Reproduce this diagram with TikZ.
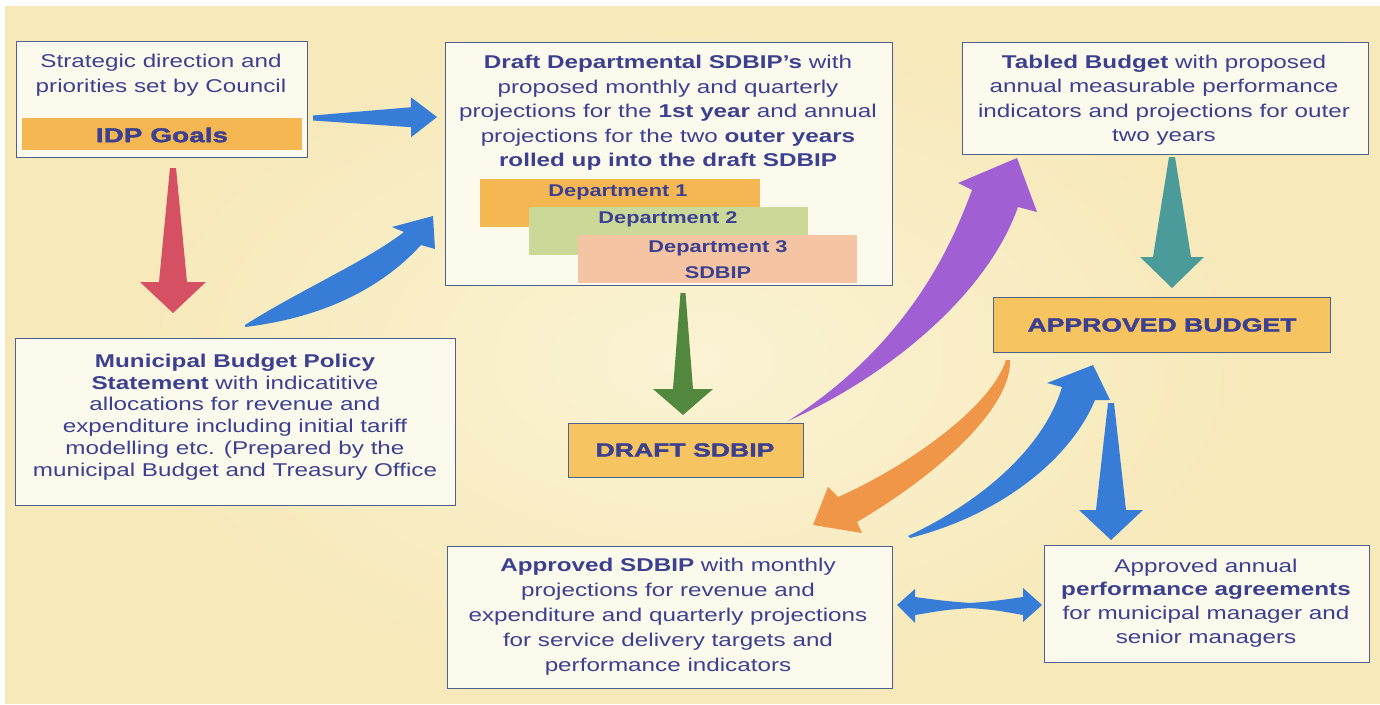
\documentclass[tikz,border=0pt]{standalone}
\usepackage{fontspec}
\setmainfont[FakeStretch=1.31]{Liberation Sans}
\newfontfamily\blackfont[FakeStretch=1.4,BoldFeatures={FakeBold=2}]{Liberation Sans}
\newfontfamily\deptfont[FakeStretch=1.28]{Liberation Sans}
\usetikzlibrary{calc}
\definecolor{bgc}{RGB}{247,233,186}
\definecolor{bglight}{RGB}{251,243,212}
\definecolor{boxfill}{RGB}{251,250,236}
\definecolor{boxline}{RGB}{78,96,140}
\definecolor{txtc}{RGB}{60,64,144}
\definecolor{orfill}{RGB}{244,183,82}
\definecolor{abfill}{RGB}{246,196,96}
\definecolor{dtwo}{RGB}{203,216,152}
\definecolor{dthree}{RGB}{245,196,163}
\definecolor{ablue}{RGB}{55,125,215}
\definecolor{ared}{RGB}{214,80,100}
\definecolor{agreen}{RGB}{82,135,62}
\definecolor{apurple}{RGB}{160,95,210}
\definecolor{ateal}{RGB}{75,155,155}
\definecolor{aorange}{RGB}{240,150,72}
\tikzset{
  box/.style={draw=boxline, line width=1.3pt, fill=boxfill, anchor=north west, inner sep=0pt},
  band/.style={anchor=north west, inner sep=0pt},
  txt/.style={align=center, text=txtc, inner sep=0pt, font=\fontsize{18.5}{24.5}\selectfont},
  deptxt/.style={align=center, text=txtc, inner sep=0pt, font=\fontsize{17}{26}\selectfont\deptfont\bfseries},
  heavytxt/.style={text=txtc, inner sep=0pt, font=\fontsize{19}{22}\selectfont\blackfont\bfseries},
}
% straight tapered block arrow: colour, tail, tip, tail half, shaft half, head half, head length, base name
\newcommand\taper[8]{%
  \coordinate (#8) at ($(#3)!#7!(#2)$);
  \fill[#1] ($(#2)!#4!90:(#3)$) -- ($(#8)!#5!90:(#3)$) -- ($(#8)!#6!90:(#3)$) -- (#3)
    -- ($(#8)!#6!-90:(#3)$) -- ($(#8)!#5!-90:(#3)$) -- ($(#2)!#4!-90:(#3)$) -- cycle;}
\begin{document}
\begin{tikzpicture}[x=1pt,y=-1pt]
\useasboundingbox (0,0) rectangle (1380,704);
\fill[white] (0,0) rectangle (1380,704);
\fill[bgc] (5,6) rectangle (1380,704);
\shade[inner color=bglight, outer color=bgc] (690,360) ellipse (560 and 330);

% ---- boxes ----
\node[box, minimum width=291pt, minimum height=116pt] (b1) at (16,41) {};
\node[band, fill=orfill, minimum width=280pt, minimum height=32pt] (idp) at (22,118) {};
\node[heavytxt, font=\fontsize{20}{22}\selectfont\blackfont\bfseries] (idpt) at (162,135) {IDP Goals};
\node[txt] (t1) at (161,75) {Strategic direction and\\priorities set by Council};

\node[box, minimum width=447pt, minimum height=243pt] (b2) at (445,42) {};
\node[txt] (t2) at (668,113) {\textbf{Draft Departmental SDBIP's} with\\proposed monthly and quarterly\\projections for the \textbf{1st year} and annual\\projections for the two \textbf{outer years}\\\textbf{rolled up into the draft SDBIP}};
\node[band, fill=orfill, minimum width=280pt, minimum height=48pt] (d1) at (480,179) {};
\node[band, fill=dtwo, minimum width=279pt, minimum height=48pt] (d2) at (529,207) {};
\node[band, fill=dthree, minimum width=279pt, minimum height=48pt] (d3) at (578,235) {};
\node[deptxt] (d1t) at (618,192) {Department 1};
\node[deptxt] (d2t) at (668,219) {Department 2};
\node[deptxt] (d3t) at (718,260) {Department 3\\SDBIP};

\node[box, minimum width=406pt, minimum height=112pt] (b3) at (962,42) {};
\node[txt] (t3) at (1164,100) {\textbf{Tabled Budget} with proposed\\annual measurable performance\\indicators and projections for outer\\two years};

\node[box, fill=abfill, minimum width=337pt, minimum height=55pt] (b4) at (993,297) {};
\node[heavytxt] (t4) at (1162,325) {APPROVED BUDGET};

\node[box, minimum width=440pt, minimum height=167pt] (b5) at (15,338) {};
\node[txt, font=\fontsize{18.5}{21.8}\selectfont] (t5) at (235,417) {\textbf{Municipal Budget Policy}\\\textbf{Statement} with indicatitive\\allocations for revenue and\\expenditure including initial tariff\\modelling etc. (Prepared by the\\municipal Budget and Treasury Office};

\node[box, fill=abfill, minimum width=235pt, minimum height=54pt] (b6) at (568,423) {};
\node[heavytxt] (t6) at (685,450) {DRAFT SDBIP};

\node[box, minimum width=445pt, minimum height=142pt] (b7) at (447,546) {};
\node[txt, font=\fontsize{18.5}{25}\selectfont] (t7) at (668,617) {\textbf{Approved SDBIP} with monthly\\projections for revenue and\\expenditure and quarterly projections\\for service delivery targets and\\performance indicators};

\node[box, minimum width=325pt, minimum height=117pt] (b8) at (1044,545) {};
\node[txt, font=\fontsize{18.5}{23.7}\selectfont] (t8) at (1206,603) {Approved annual\\\textbf{performance agreements}\\for municipal manager and\\senior managers};

% ---- straight arrows ----
\coordinate (a1t) at (313,118); \coordinate (a1h) at (437,117);
\taper{ablue}{a1t}{a1h}{2.5pt}{10pt}{20pt}{26pt}{a1b}
\coordinate (a2t) at (173,168); \coordinate (a2h) at (173,313);
\taper{ared}{a2t}{a2h}{3pt}{14pt}{33pt}{31pt}{a2b}
\coordinate (a3t) at (683,293); \coordinate (a3h) at (683,415);
\taper{agreen}{a3t}{a3h}{2.5pt}{10pt}{30pt}{26pt}{a3b}
\coordinate (a4t) at (1172,157); \coordinate (a4h) at (1172,288);
\taper{ateal}{a4t}{a4h}{3pt}{19pt}{32pt}{31pt}{a4b}
\coordinate (a5t) at (1111,403); \coordinate (a5h) at (1111,540);
\taper{ablue}{a5t}{a5h}{3pt}{15pt}{32pt}{30pt}{a5b}

% ---- double arrow ----
\coordinate (a6l) at (897,605); \coordinate (a6r) at (1042,605);
\fill[ablue] (a6l) -- (915,589) -- (915,597) .. controls (945,601) .. (970,603)
  .. controls (995,601) .. (1023,597) -- (1023,588) -- (a6r) -- (1023,622) -- (1023,615)
  .. controls (995,610) .. (970,608) .. controls (945,610) .. (915,615) -- (915,623) -- cycle;

% ---- curved arrows ----
% municipal -> draft departmental
\coordinate (c1t) at (245,325); \coordinate (c1h) at (433,216);
\fill[ablue] (c1t) .. controls (300,290) and (365,262) .. (404,232) -- (392,227) -- (c1h)
  -- (435,249) -- (421,245) .. controls (380,290) and (320,318) .. (245,327) -- cycle;
% draft sdbip -> tabled budget
\coordinate (c2t) at (790,420); \coordinate (c2h) at (1017,158);
\fill[apurple] (c2t) .. controls (880,380) and (985,300) .. (1018,207) -- (1037,212) -- (c2h)
  -- (958,183) -- (972,190) .. controls (955,235) and (915,340) .. (788,421) -- cycle;
% approved budget -> approved sdbip
\coordinate (c3t) at (1008,360); \coordinate (c3h) at (813,525);
\fill[aorange] (1006,360) .. controls (990,410) and (900,470) .. (838,497) -- (828,487) -- (c3h)
  -- (862,533) -- (857,522) .. controls (945,470) and (1012,405) .. (1010,360) -- cycle;
% approved sdbip -> approved budget
\coordinate (c4t) at (909,537); \coordinate (c4h) at (1093,365);
\fill[ablue] (908,536) .. controls (985,500) and (1045,445) .. (1062,387) -- (1047,383) -- (c4h)
  -- (1110,400) -- (1095,400) .. controls (1070,460) and (1000,515) .. (910,538) -- cycle;
\end{tikzpicture}
\end{document}
